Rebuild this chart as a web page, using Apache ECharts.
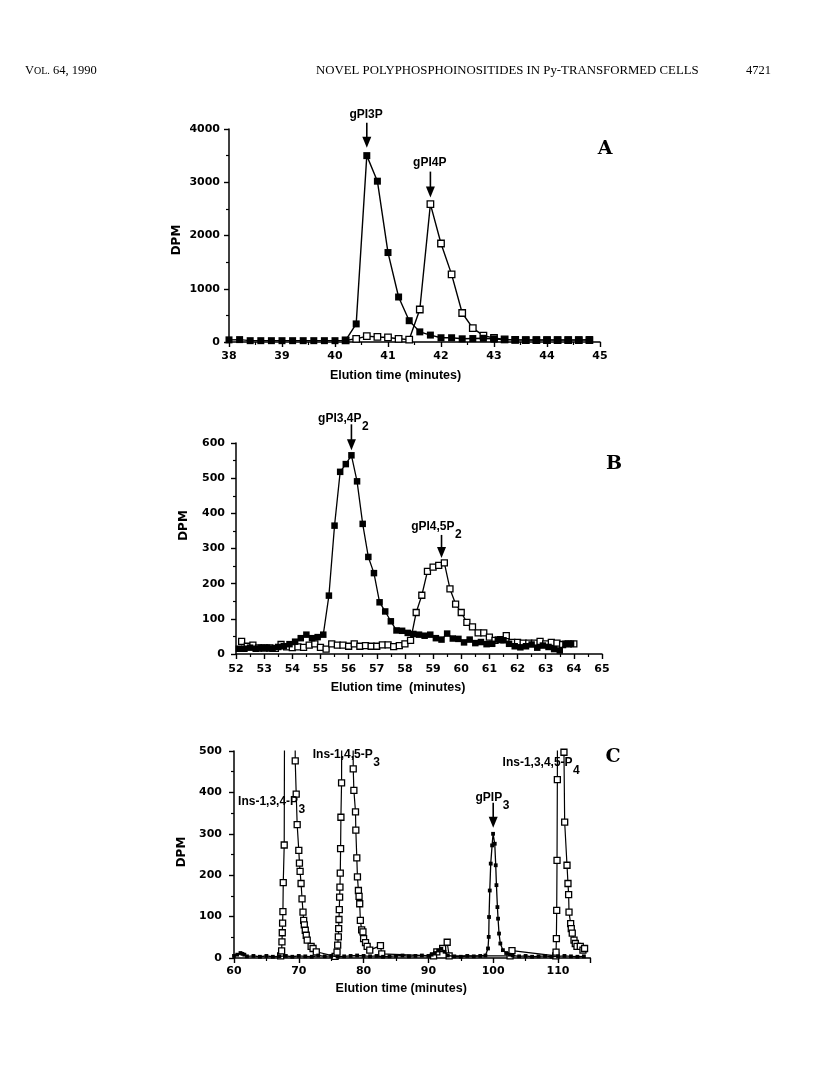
<!DOCTYPE html>
<html><head><meta charset="utf-8">
<script src="https://cdn.jsdelivr.net/npm/echarts@6/dist/echarts.min.js"></script>
<style>html,body{margin:0;padding:0;background:#fff}#c{width:816px;height:1076px}</style>
</head><body><div id="c"></div>
<script>
// ---------- Panel A ----------
const aTimeFilled = [38.0,38.2,38.4,38.6,38.8,39.0,39.2,39.4,39.6,39.8,40.0,40.2,40.4,40.6,40.8,41.0,41.2,41.4,41.6,41.8,42.0,42.2,42.4,42.6,42.8,43.0,43.2,43.4,43.6,43.8,44.0,44.2,44.4,44.6,44.8];
const aDpmFilled  = [40,45,25,25,25,25,25,25,25,25,25,30,340,3500,3020,1680,845,400,190,130,80,80,60,65,70,55,45,40,40,40,40,40,40,40,45];
const aTimeOpen = [40.2,40.4,40.6,40.8,41.0,41.2,41.4,41.6,41.8,42.0,42.2,42.4,42.6,42.8,43.0,43.2,43.4,43.6,43.8,44.0,44.2,44.4,44.6,44.8];
const aDpmOpen  = [30,60,110,95,85,60,45,610,2590,1850,1270,545,260,120,75,50,40,35,35,35,35,35,35,35];

// ---------- Panel B ----------
const bTimeFilled = [52.1,52.3,52.5,52.7,52.9,53.1,53.3,53.5,53.7,53.9,54.1,54.3,54.5,54.7,54.9,55.1,55.3,55.5,55.7,55.9,56.1,56.3,56.5,56.7,56.9,57.1,57.3,57.5,57.7,57.9,58.1,58.3,58.5,58.7,58.9,59.1,59.3,59.5,59.7,59.9,60.1,60.3,60.5,60.7,60.9,61.1,61.3,61.5,61.7,61.9,62.1,62.3,62.5,62.7,62.9,63.1,63.3,63.5,63.7,63.9];
const bDpmFilled  = [15,15,18,15,18,18,15,20,22,28,35,45,55,45,48,55,166,365,518,540,565,491,370,276,230,147,121,93,67,66,60,57,55,52,55,45,41,58,44,43,33,41,31,34,28,29,41,39,29,22,19,22,27,18,24,20,14,10,29,29];
const bTimeOpen = [52.2,52.4,52.6,52.8,53.0,53.2,53.4,53.6,53.8,54.0,54.2,54.4,54.6,54.8,55.0,55.2,55.4,55.6,55.8,56.0,56.2,56.4,56.6,56.8,57.0,57.2,57.4,57.6,57.8,58.0,58.2,58.4,58.6,58.8,59.0,59.2,59.4,59.6,59.8,60.0,60.2,60.4,60.6,60.8,61.0,61.2,61.4,61.6,61.8,62.0,62.2,62.4,62.6,62.8,63.0,63.2,63.4,63.6,63.8,64.0];
const bDpmOpen  = [36,22,25,17,17,17,16,27,20,18,20,19,25,29,19,14,29,25,25,22,29,22,24,22,22,26,26,21,24,29,39,118,167,235,247,252,259,185,142,118,90,77,60,60,48,39,41,52,33,33,31,31,31,36,29,33,31,27,29,29];

// ---------- Panel C ----------
const cTimeOpen = [67.2,67.35,67.4,67.45,67.5,67.55,67.6,67.75,68.5,69.45,69.6,69.75,70.0,70.1,70.2,70.35,70.5,70.65,70.75,70.85,71.0,71.15,71.3,71.9,72.2,72.7,75.6,75.9,76.0,76.1,76.15,76.2,76.25,76.3,76.35,76.4,76.45,76.5,76.6,77.4,78.4,78.5,78.75,78.8,78.95,79.05,79.2,79.3,79.4,79.5,79.7,79.9,80.0,80.3,80.55,80.95,82.6,82.8,90.8,91.3,92.2,92.9,93.2,102.6,102.9,109.65,109.7,109.75,109.8,109.85,109.9,110.4,110.92,111.03,111.39,111.54,111.64,111.7,111.95,112.05,112.2,112.47,112.67,112.93,113.44,113.85,114.1];
const cDpmOpen  = [5,17,39,61,84,112,182,273,5000,476,396,322,260,229,209,180,143,111,91,80,67,55,43,28,23,15,4,14,31,51,71,93,117,147,171,205,264,340,423,4800,457,405,353,309,242,196,163,149,131,91,68,63,47,37,28,19,30,10,5,15,23,38,5,5,18,5,14,47,115,236,431,4200,497,328,224,180,153,111,83,71,60,43,35,28,28,19,23];
const cTimeFilled = [60.0,60.5,61.0,61.3,61.6,62.0,63.0,64.0,65.0,66.0,67.0,68.0,69.0,70.0,71.0,72.0,73.0,74.0,75.0,76.0,77.0,78.0,79.0,80.0,81.0,82.0,83.0,84.0,85.0,86.0,87.0,88.0,89.0,90.0,90.5,91.0,91.5,92.0,92.5,93.0,94.0,95.0,96.0,97.0,98.0,98.8,99.2,99.31,99.36,99.47,99.62,99.83,99.98,100.24,100.39,100.5,100.65,100.75,100.9,101.1,101.5,102.0,102.5,103.0,104.0,105.0,106.0,107.0,108.0,109.0,110.0,111.0,112.0,113.0,114.0];
const cDpmFilled  = [5,8,12,10,8,4,5,3,5,3,4,5,3,5,4,3,6,4,5,3,4,5,6,5,4,5,3,4,5,6,4,5,6,5,8,12,18,22,15,6,4,3,5,4,5,6,23,51,99,163,228,272,300,276,224,176,123,95,59,35,19,12,8,6,4,5,3,4,5,3,4,5,4,3,4];

function pairs(xs, ys) { return xs.map((x, i) => [x, ys[i]]); }

const tickFont = 'DejaVu Sans';
function xAxisCfg(idx, min, max, interval, name, namePadRight, margin, gap) {
  return {
    type: 'value', gridIndex: idx, min: min, max: max, interval: interval,
    name: name, nameLocation: 'middle', nameGap: gap,
    nameTextStyle: { fontFamily: 'Liberation Sans', fontWeight: 'bold', fontSize: 12.5, color: '#000', padding: [0, namePadRight, 0, 0] },
    axisLine: { show: true, onZero: false, lineStyle: { color: '#000', width: 1.5 } },
    axisTick: { show: true, inside: false, length: 5, lineStyle: { color: '#000', width: 1.4 } },
    minorTick: { show: true, splitNumber: 2, length: 3, lineStyle: { color: '#000', width: 1.2 } },
    splitLine: { show: false },
    axisLabel: { color: '#000', fontFamily: tickFont, fontWeight: 'bold', fontSize: 11, margin: margin,
      showMaxLabel: idx !== 2, formatter: v => String(v) }
  };
}
function yAxisCfg(idx, max, interval, namePad, margin) {
  return {
    type: 'value', gridIndex: idx, min: 0, max: max, interval: interval,
    name: 'DPM', nameLocation: 'middle', nameGap: 46,
    nameTextStyle: { fontFamily: tickFont, fontWeight: 'bold', fontSize: 12, color: '#000', padding: namePad },
    axisLine: { show: true, lineStyle: { color: '#000', width: 1.5 } },
    axisTick: { show: true, inside: false, length: 5, lineStyle: { color: '#000', width: 1.4 } },
    minorTick: { show: true, splitNumber: 2, length: 3, lineStyle: { color: '#000', width: 1.2 } },
    splitLine: { show: false },
    axisLabel: { color: '#000', fontFamily: tickFont, fontWeight: 'bold', fontSize: 11, margin: margin, formatter: v => String(v) }
  };
}
function series(idx, data, filled, size, lw, z) {
  return {
    type: 'line', xAxisIndex: idx, yAxisIndex: idx, data: data,
    symbol: 'rect', symbolSize: size, showSymbol: true, clip: true,
    lineStyle: { color: '#000', width: lw },
    itemStyle: filled ? { color: '#000', borderColor: '#000', borderWidth: 0 }
                      : { color: '#fff', borderColor: '#000', borderWidth: 1.3 },
    emphasis: { disabled: true }, silent: true, z: z, animation: false
  };
}

const chart = echarts.init(document.getElementById('c'), null, { renderer: 'canvas' });
chart.setOption({
  backgroundColor: '#fff',
  animation: false,
  grid: [
    { left: 229, top: 129, width: 371, height: 213 },
    { left: 236, top: 443, width: 366, height: 211 },
    { left: 234, top: 751, width: 356.4, height: 207 }
  ],
  xAxis: [
    xAxisCfg(0, 38, 45, 1, 'Elution time (minutes)', 38, 9, 27),
    xAxisCfg(1, 52, 65, 1, 'Elution time  (minutes)', 42, 10, 27),
    xAxisCfg(2, 60, 115, 10, 'Elution time (minutes)', 22, 8, 24)
  ],
  yAxis: [
    yAxisCfg(0, 4000, 1000, [0, 9, 0, 0], 9),
    yAxisCfg(1, 600, 100, [0, 0, 0, 46], 11),
    yAxisCfg(2, 500, 100, [0, 0, 0, 5], 12)
  ],
  series: [
    series(0, pairs(aTimeOpen, aDpmOpen), false, 6.5, 1.4, 2),
    series(0, pairs(aTimeFilled, aDpmFilled), true, 7, 1.4, 3),
    series(1, pairs(bTimeOpen, bDpmOpen), false, 6, 1.3, 2),
    series(1, pairs(bTimeFilled, bDpmFilled), true, 6.5, 1.3, 3),
    series(2, pairs(cTimeOpen, cDpmOpen), false, 6, 1.2, 2),
    series(2, pairs(cTimeFilled, cDpmFilled), true, 3.8, 1.3, 3)
  ]
});

// annotations anchored to data points (offsets in px)
const annotations = [
  { grid: 0, x: 40.6, y: 3500, main: 'gPI3P', sub: '', rdx: 16, dy: -41, arrow: [-33, -8] },
  { grid: 0, x: 41.8, y: 2580, main: 'gPI4P', sub: '', rdx: 16, dy: -42, arrow: [-33, -7] },
  { grid: 1, x: 56.1, y: 565, main: 'gPI3,4P', sub: '2', rdx: 10, dy: -37, arrow: [-31, -5] },
  { grid: 1, x: 59.3, y: 259, main: 'gPI4,5P', sub: '2', rdx: 13, dy: -36, arrow: [-28, -5] },
  { grid: 2, x: 68.5, y: 500, main: 'Ins-1,3,4-P', sub: '3', rdx: 9, dy: 51, arrow: null },
  { grid: 2, x: 77.4, y: 500, main: 'Ins-1,4,5-P', sub: '3', rdx: 26, dy: 4, arrow: null },
  { grid: 2, x: 100, y: 300, main: 'gPIP', sub: '3', rdx: 9, dy: -36, arrow: [-31, -6] },
  { grid: 2, x: 110.4, y: 500, main: 'Ins-1,3,4,5-P', sub: '4', rdx: 12, dy: 12, arrow: null }
];
const labelFont = 'bold 12px "Liberation Sans"';
const graphics = [];
annotations.forEach(a => {
  const p = chart.convertToPixel({ xAxisIndex: a.grid, yAxisIndex: a.grid }, [a.x, a.y]);
  const px = p[0], py = p[1];
  graphics.push({ type: 'text', x: px + a.rdx, y: py + a.dy, z: 10,
    style: { text: a.main, font: labelFont, fill: '#000', align: 'right', verticalAlign: 'middle' } });
  if (a.sub) {
    graphics.push({ type: 'text', x: px + a.rdx + 0.5, y: py + a.dy + 8, z: 10,
      style: { text: a.sub, font: labelFont, fill: '#000', align: 'left', verticalAlign: 'middle' } });
  }
  if (a.arrow) {
    const y0 = py + a.arrow[0], y1 = py + a.arrow[1];
    graphics.push({ type: 'line', z: 10, shape: { x1: px, y1: y0, x2: px, y2: y1 - 6 },
      style: { stroke: '#000', lineWidth: 1.6 } });
    graphics.push({ type: 'polygon', z: 10, shape: { points: [[px - 4.5, y1 - 11], [px + 4.5, y1 - 11], [px, y1]] },
      style: { fill: '#000' } });
  }
});
// panel letters
[['A', 605, 149], ['B', 614, 464], ['C', 613, 757]].forEach(l => {
  graphics.push({ type: 'text', x: l[1], y: l[2], z: 10,
    style: { text: l[0], font: 'bold 19px "DejaVu Serif"', fill: '#000', align: 'center', verticalAlign: 'middle' } });
});
// running header
graphics.push({ type: 'text', x: 25, y: 71, z: 10,
  style: { text: '{a|V}{b|OL.}{a| 64, 1990}', fill: '#000', verticalAlign: 'middle',
    rich: { a: { fontFamily: 'Liberation Serif', fontSize: 12.5, fill: '#000' }, b: { fontFamily: 'Liberation Serif', fontSize: 10, fill: '#000' } } } });
graphics.push({ type: 'text', x: 316, y: 71, z: 10,
  style: { text: 'NOVEL POLYPHOSPHOINOSITIDES IN Py-TRANSFORMED CELLS', font: '12.8px "Liberation Serif"', fill: '#000', verticalAlign: 'middle' } });
graphics.push({ type: 'text', x: 746, y: 71, z: 10,
  style: { text: '4721', font: '12.5px "Liberation Serif"', fill: '#000', verticalAlign: 'middle' } });

chart.setOption({ graphic: graphics });
</script>
</body></html>
